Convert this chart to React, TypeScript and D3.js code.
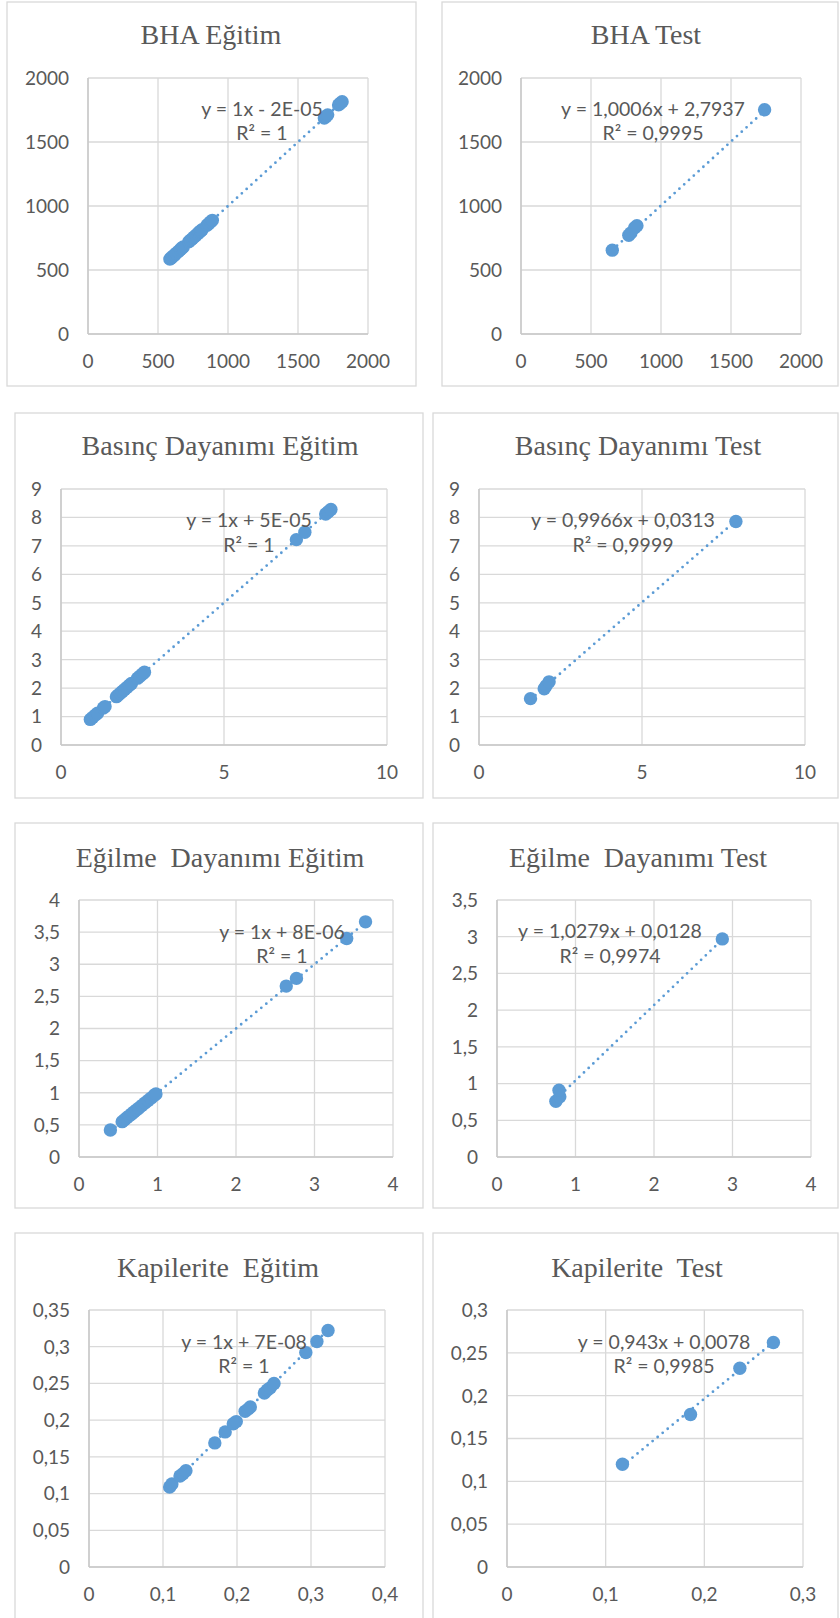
import React from 'react';
import * as d3 from 'd3';

const bhaTrainX = [585, 592, 600, 610, 620, 630, 645, 660, 670, 680, 720, 732, 745, 758, 770, 785, 795, 805, 815, 850, 862, 875, 888, 1688, 1700, 1712, 1790, 1802, 1815];
const bhaTrainY = [585, 592, 600, 610, 620, 630, 645, 660, 670, 680, 720, 732, 745, 758, 770, 785, 795, 805, 815, 850, 862, 875, 888, 1688, 1700, 1712, 1790, 1802, 1815];
const bhaTestX = [652, 770, 785, 812, 828, 1740];
const bhaTestY = [655, 772, 790, 830, 846, 1752];

const basincTrainX = [0.9, 0.97, 1.05, 1.12, 1.3, 1.35, 1.7, 1.75, 1.82, 1.88, 1.95, 2.02, 2.1, 2.16, 2.35, 2.42, 2.5, 2.56, 7.22, 7.48, 8.12, 8.2, 8.28];
const basincTrainY = [0.9, 0.97, 1.05, 1.12, 1.3, 1.35, 1.7, 1.75, 1.82, 1.88, 1.95, 2.02, 2.1, 2.16, 2.35, 2.42, 2.5, 2.56, 7.22, 7.48, 8.12, 8.2, 8.28];
const basincTestX = [1.58, 2.0, 2.06, 2.15, 7.88];
const basincTestY = [1.63, 1.98, 2.08, 2.22, 7.86];

const egilmeTrainX = [0.4, 0.55, 0.58, 0.61, 0.64, 0.67, 0.7, 0.73, 0.76, 0.8, 0.84, 0.88, 0.92, 0.96, 0.98, 2.64, 2.77, 3.41, 3.65];
const egilmeTrainY = [0.42, 0.55, 0.58, 0.61, 0.64, 0.67, 0.7, 0.73, 0.76, 0.8, 0.84, 0.88, 0.92, 0.96, 0.98, 2.66, 2.78, 3.4, 3.66];
const egilmeTestX = [0.75, 0.8, 0.79, 2.87];
const egilmeTestY = [0.76, 0.82, 0.91, 2.97];

const kapTrainX = [0.109, 0.112, 0.123, 0.127, 0.131, 0.17, 0.184, 0.195, 0.199, 0.211, 0.215, 0.218, 0.237, 0.241, 0.245, 0.25, 0.293, 0.308, 0.323];
const kapTrainY = [0.109, 0.113, 0.124, 0.127, 0.131, 0.169, 0.184, 0.195, 0.198, 0.212, 0.215, 0.218, 0.237, 0.241, 0.244, 0.25, 0.292, 0.307, 0.322];
const kapTestX = [0.117, 0.186, 0.236, 0.27];
const kapTestY = [0.12, 0.178, 0.232, 0.262];

// Tick labels
const bhaTicks = [0, 500, 1000, 1500, 2000];
const basincXTicks = [0, 5, 10];
const basincYTicks = [0, 1, 2, 3, 4, 5, 6, 7, 8, 9];
const egilmeXTicks = [0, 1, 2, 3, 4];
const egilmeTrainYTicks = [0, 0.5, 1, 1.5, 2, 2.5, 3, 3.5, 4];
const egilmeTestYTicks = [0, 0.5, 1, 1.5, 2, 2.5, 3, 3.5];
const kapTrainTicks = [0, 0.05, 0.1, 0.15, 0.2, 0.25, 0.3, 0.35];
const kapTrainXTicks = [0, 0.1, 0.2, 0.3, 0.4];
const kapTestYTicks = [0, 0.05, 0.1, 0.15, 0.2, 0.25, 0.3];
const kapTestXTicks = [0, 0.1, 0.2, 0.3];

// Trendline fits shown on the charts
const titles = ['BHA Eğitim', 'BHA Test', 'Basınç Dayanımı Eğitim', 'Basınç Dayanımı Test', 'Eğilme\u00a0 Dayanımı Eğitim', 'Eğilme\u00a0 Dayanımı Test', 'Kapilerite\u00a0 Eğitim', 'Kapilerite\u00a0 Test'];
const slopes = [1, 1.0006, 1, 0.9966, 1, 1.0279, 1, 0.943];
const intercepts = [-2e-5, 2.7937, 5e-5, 0.0313, 8e-6, 0.0128, 7e-8, 0.0078];
const equations = ['y = 1x - 2E-05', 'y = 1,0006x + 2,7937', 'y = 1x + 5E-05', 'y = 0,9966x + 0,0313', 'y = 1x + 8E-06', 'y = 1,0279x + 0,0128', 'y = 1x + 7E-08', 'y = 0,943x + 0,0078'];
const rSquared = ['R² = 1', 'R² = 0,9995', 'R² = 1', 'R² = 0,9999', 'R² = 1', 'R² = 0,9974', 'R² = 1', 'R² = 0,9985'];

const BLUE = '#5b9bd5';
const GRID = '#d9d9d9';
const TEXT = '#595959';
const SANS = "Lato, 'Open Sans', sans-serif";
const SERIF = "'Liberation Serif', 'Times New Roman', serif";

const fmt = (v: number) => String(v).replace('.', ',');

// Layout of each panel: border box, plot area, title position, equation anchor
const layout = [
  { box: [7, 2, 416, 386], plot: [88, 78, 368, 334], tx: 211, ty: 44, eq: [262, 109, 133] },
  { box: [442, 2, 838, 386], plot: [521, 78, 801, 334], tx: 646, ty: 44, eq: [653, 109, 133] },
  { box: [15, 413, 423, 798], plot: [61, 489, 387, 745], tx: 220, ty: 455, eq: [249, 520, 545] },
  { box: [433, 413, 838, 798], plot: [479, 489, 805, 745], tx: 638, ty: 455, eq: [623, 520, 545] },
  { box: [15, 823, 423, 1208], plot: [79, 900, 393, 1157], tx: 220, ty: 867, eq: [282, 932, 956] },
  { box: [433, 823, 838, 1208], plot: [497, 900, 811, 1157], tx: 638, ty: 867, eq: [610, 931, 956] },
  { box: [15, 1233, 423, 1640], plot: [89, 1310, 385, 1567], tx: 218, ty: 1277, eq: [244, 1342, 1366] },
  { box: [433, 1233, 838, 1640], plot: [507, 1310, 803, 1567], tx: 637, ty: 1277, eq: [664, 1342, 1366] },
];

const series = [
  { xs: bhaTrainX, ys: bhaTrainY, xTicks: bhaTicks, yTicks: bhaTicks },
  { xs: bhaTestX, ys: bhaTestY, xTicks: bhaTicks, yTicks: bhaTicks },
  { xs: basincTrainX, ys: basincTrainY, xTicks: basincXTicks, yTicks: basincYTicks },
  { xs: basincTestX, ys: basincTestY, xTicks: basincXTicks, yTicks: basincYTicks },
  { xs: egilmeTrainX, ys: egilmeTrainY, xTicks: egilmeXTicks, yTicks: egilmeTrainYTicks },
  { xs: egilmeTestX, ys: egilmeTestY, xTicks: egilmeXTicks, yTicks: egilmeTestYTicks },
  { xs: kapTrainX, ys: kapTrainY, xTicks: kapTrainXTicks, yTicks: kapTrainTicks },
  { xs: kapTestX, ys: kapTestY, xTicks: kapTestXTicks, yTicks: kapTestYTicks },
];

const Panel = ({ i }: { i: number }) => {
  const L = layout[i];
  const S = series[i];
  const [bx0, by0, bx1, by1] = L.box;
  const [px0, py0, px1, py1] = L.plot;

  const x = d3.scaleLinear().domain(d3.extent(S.xTicks) as [number, number]).range([px0, px1]);
  const y = d3.scaleLinear().domain(d3.extent(S.yTicks) as [number, number]).range([py1, py0]);

  // trendline spans the data's x range
  const [xMin, xMax] = d3.extent(S.xs) as [number, number];
  const trend = d3.line<number>()
    .x(v => x(v))
    .y(v => y(slopes[i] * v + intercepts[i]))([xMin, xMax]);

  return (
    <g>
      <rect x={bx0} y={by0} width={bx1 - bx0} height={by1 - by0} fill="#fff" stroke={GRID} strokeWidth={1.3} />
      <text x={L.tx} y={L.ty} textAnchor="middle" fontFamily={SERIF} fontSize={28} fill={TEXT}>{titles[i]}</text>

      {/* gridlines */}
      {S.yTicks.map(t => (
        <line key={'gy' + t} x1={px0} x2={px1} y1={y(t)} y2={y(t)} stroke={GRID} strokeWidth={1.3} />
      ))}
      {S.xTicks.map(t => (
        <line key={'gx' + t} x1={x(t)} x2={x(t)} y1={py0} y2={py1} stroke={GRID} strokeWidth={1.3} />
      ))}
      {/* axis lines */}
      <line x1={px0} x2={px1} y1={py1} y2={py1} stroke="#c8c8c8" strokeWidth={1.5} />
      <line x1={px0} x2={px0} y1={py0} y2={py1} stroke="#c8c8c8" strokeWidth={1.5} />

      {/* tick labels */}
      {S.yTicks.map(t => (
        <text key={'ly' + t} x={px0 - 19} y={y(t)} dy="0.36em" textAnchor="end" fontFamily={SANS} fontSize={19} fill={TEXT}>{fmt(t)}</text>
      ))}
      {S.xTicks.map(t => (
        <text key={'lx' + t} x={x(t)} y={py1 + 27} dy="0.36em" textAnchor="middle" fontFamily={SANS} fontSize={19} fill={TEXT}>{fmt(t)}</text>
      ))}

      {/* trendline */}
      <path d={trend || ''} fill="none" stroke={BLUE} strokeWidth={2.8} strokeLinecap="round" strokeDasharray="0 6.5" />

      {/* points */}
      {S.xs.map((v, k) => (
        <circle key={'p' + k} cx={x(v)} cy={y(S.ys[k])} r={6.7} fill={BLUE} />
      ))}

      {/* equation */}
      <text x={L.eq[0]} y={L.eq[1]} dy="0.36em" textAnchor="middle" fontFamily={SANS} fontSize={19.5} fill={TEXT}>{equations[i]}</text>
      <text x={L.eq[0]} y={L.eq[2]} dy="0.36em" textAnchor="middle" fontFamily={SANS} fontSize={19.5} fill={TEXT}>{rSquared[i]}</text>
    </g>
  );
};

export default function App() {
  return (
    <svg width={840} height={1618} style={{ position: 'absolute', left: 0, top: 0, background: '#fff' }}>
      {layout.map((_, i) => <Panel key={i} i={i} />)}
    </svg>
  );
}
